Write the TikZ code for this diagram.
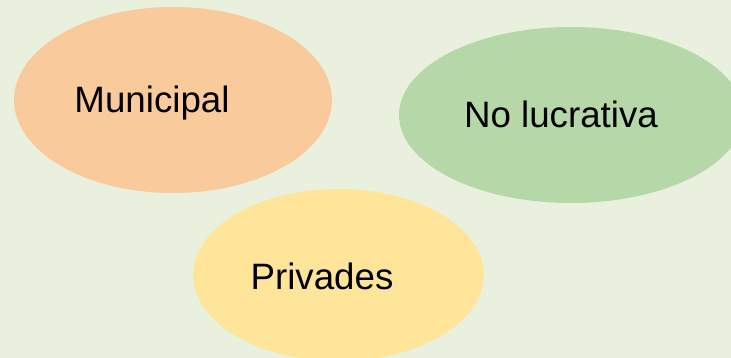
\documentclass[tikz,border=0pt]{standalone}
\usepackage{fontspec}
\setmainfont{Liberation Sans}
\usetikzlibrary{shapes.geometric}
\definecolor{bgmint}{HTML}{E9F1DE}
\definecolor{muniorange}{HTML}{F9CB9C}
\definecolor{nolucgreen}{HTML}{B6D7A8}
\definecolor{privyellow}{HTML}{FFE599}
\begin{document}
\begin{tikzpicture}[x=1pt,y=-1pt,
  blob/.style={ellipse, inner sep=0pt, draw=none},
  label/.style={anchor=base, inner sep=0pt, font=\fontsize{36.7}{40}\selectfont}]
% background
\fill [bgmint] (0,0) rectangle (731,358);
\useasboundingbox (0,0) rectangle (731,358);
\clip (0,0) rectangle (731,358);
% ellipses
\node [blob, fill=muniorange, minimum width=318pt, minimum height=186pt] (muni) at (173,100) {};
\node [blob, fill=nolucgreen, minimum width=344pt, minimum height=176pt] (noluc) at (571,115) {};
\node [blob, fill=privyellow, minimum width=291pt, minimum height=172pt] (priv) at (338.5,275) {};
% labels
\node [label] (munitext) at (152,113) {Municipal};
\node [label] (noluctext) at (561,128) {No lucrativa};
\node [label] (privtext) at (322,289) {Privades};
\end{tikzpicture}
\end{document}
